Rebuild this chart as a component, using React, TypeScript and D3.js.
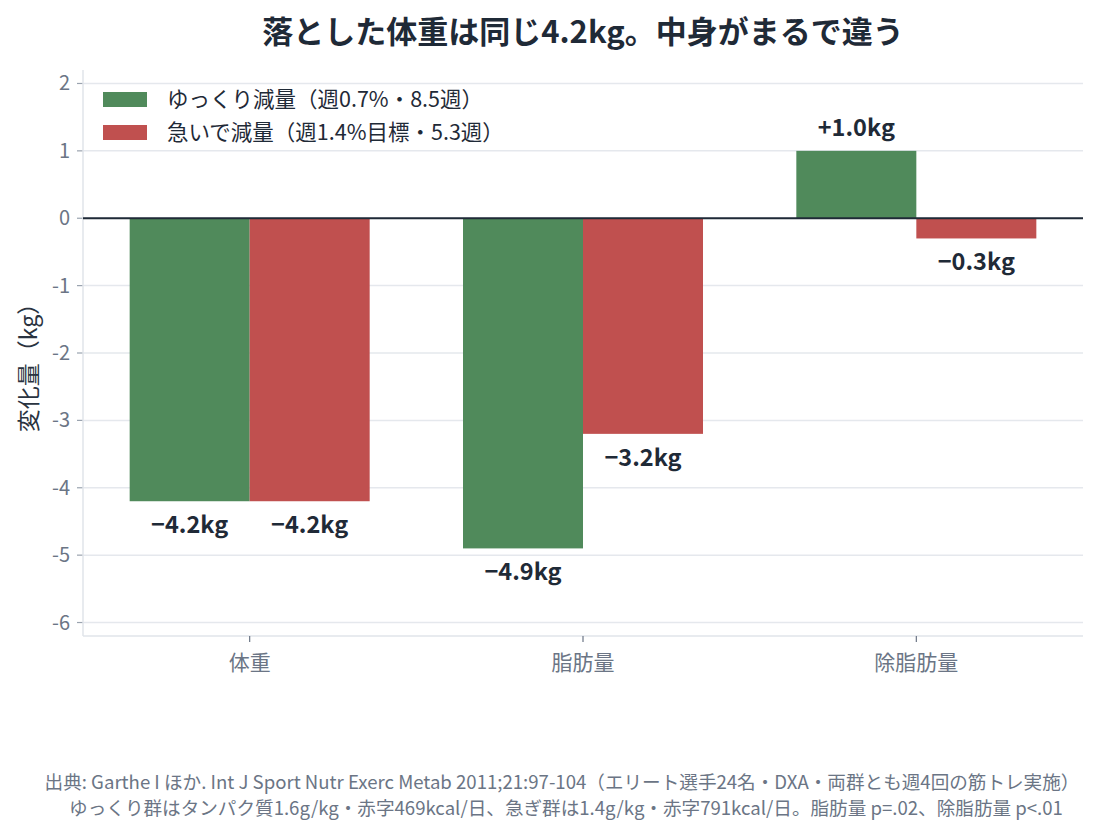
import React from "react";
import * as d3 from "d3";

const categories = ["体重", "脂肪量", "除脂肪量"];
const seriesNames = ["ゆっくり減量（週0.7%・8.5週）", "急いで減量（週1.4%目標・5.3週）"];
const slowValues = [-4.2, -4.9, 1.0];
const fastValues = [-4.2, -3.2, -0.3];
const seriesColors = ["#508a5b", "#c0504f"];
const yTicks = [2, 1, 0, -1, -2, -3, -4, -5, -6];
const title = "落とした体重は同じ4.2kg。中身がまるで違う";
const yLabel = "変化量（kg）";
const footLines = [
  "出典: Garthe I ほか. Int J Sport Nutr Exerc Metab 2011;21:97-104（エリート選手24名・DXA・両群とも週4回の筋トレ実施）",
  "ゆっくり群はタンパク質1.6g/kg・赤字469kcal/日、急ぎ群は1.4g/kg・赤字791kcal/日。脂肪量 p=.02、除脂肪量 p<.01",
];

const W = 1105;
const H = 833;
const left = 83;
const right = 1083;
const top = 70;
const bottom = 636;
const font = "'Noto Sans CJK JP', 'Noto Sans', sans-serif";

function fmt(v: number) {
  const s = Math.abs(v).toFixed(1) + "kg";
  return v > 0 ? "+" + s : "\u2212" + s;
}

export default function App() {
  const y = d3.scaleLinear().domain([-6.2, 2.2]).range([bottom, top]);
  const x0 = d3.scaleBand().domain(categories).range([left, right]).paddingInner(0.28).paddingOuter(0.14);
  const x1 = d3.scaleBand().domain(["0", "1"]).range([0, x0.bandwidth()]);
  const series = [slowValues, fastValues];

  return (
    <svg width={W} height={H} style={{ position: "absolute", left: 0, top: 0, background: "#fff" }} fontFamily={font}>
      <rect width={W} height={H} fill="#fff" />
      <text x={(left + right) / 2} y={43} textAnchor="middle" fontSize={31} fontWeight={700} fill="#1f2a37">{title}</text>
      {/* grid */}
      {yTicks.map((t) => (
        <g key={t}>
          <line x1={left} x2={right} y1={y(t)} y2={y(t)} stroke="#e5e8ed" strokeWidth={1.5} />
          <line x1={left - 6} x2={left} y1={y(t)} y2={y(t)} stroke="#9aa3af" strokeWidth={1.2} />
          <text x={left - 13} y={y(t)} dy="0.35em" textAnchor="end" fontSize={20} fill="#6b7585">{String(t)}</text>
        </g>
      ))}
      {/* spines */}
      <line x1={left} x2={left} y1={top} y2={bottom} stroke="#e0e4ea" strokeWidth={1.5} />
      <line x1={left} x2={right} y1={bottom} y2={bottom} stroke="#e0e4ea" strokeWidth={1.5} />
      {/* bars */}
      {categories.map((c, ci) => (
        <g key={c}>
          {series.map((vals, si) => {
            const v = vals[ci];
            const bx = (x0(c) as number) + (x1(String(si)) as number);
            const bw = x1.bandwidth();
            const y0 = y(Math.max(0, v));
            const h = Math.abs(y(v) - y(0));
            return (
              <g key={si}>
                <rect x={bx} y={y0} width={bw} height={h} fill={seriesColors[si]} />
                <text
                  x={bx + bw / 2}
                  y={v >= 0 ? y(v) - 15 : y(v) + 32}
                  textAnchor="middle"
                  fontSize={23.5}
                  fontWeight={700}
                  fill="#1f2a37"
                >
                  {fmt(v)}
                </text>
              </g>
            );
          })}
          <line
            x1={(x0(c) as number) + x0.bandwidth() / 2}
            x2={(x0(c) as number) + x0.bandwidth() / 2}
            y1={bottom}
            y2={bottom + 6}
            stroke="#6b7585"
            strokeWidth={1.2}
          />
          <text x={(x0(c) as number) + x0.bandwidth() / 2} y={bottom + 34} textAnchor="middle" fontSize={21} fill="#6b7585">{c}</text>
        </g>
      ))}
      {/* zero line */}
      <line x1={left} x2={right} y1={y(0)} y2={y(0)} stroke="#1f2a37" strokeWidth={1.8} />
      {/* y label */}
      <text transform={`translate(37, ${362}) rotate(-90)`} textAnchor="middle" fontSize={23} fill="#2a3340">{yLabel}</text>
      {/* legend */}
      {seriesNames.map((n, i) => (
        <g key={n} transform={`translate(103, ${92 + i * 33})`}>
          <rect x={0} y={0} width={44} height={15} fill={seriesColors[i]} />
          <text x={64} y={7.5} dy="0.36em" fontSize={21.5} fill="#1f2a37">{n}</text>
        </g>
      ))}
      {/* footer */}
      <text x={562} y={789} textAnchor="middle" fontSize={18.6} fill="#6b7585">{footLines[0]}</text>
      <text x={566} y={815} textAnchor="middle" fontSize={18.6} fill="#6b7585">{footLines[1]}</text>
    </svg>
  );
}
